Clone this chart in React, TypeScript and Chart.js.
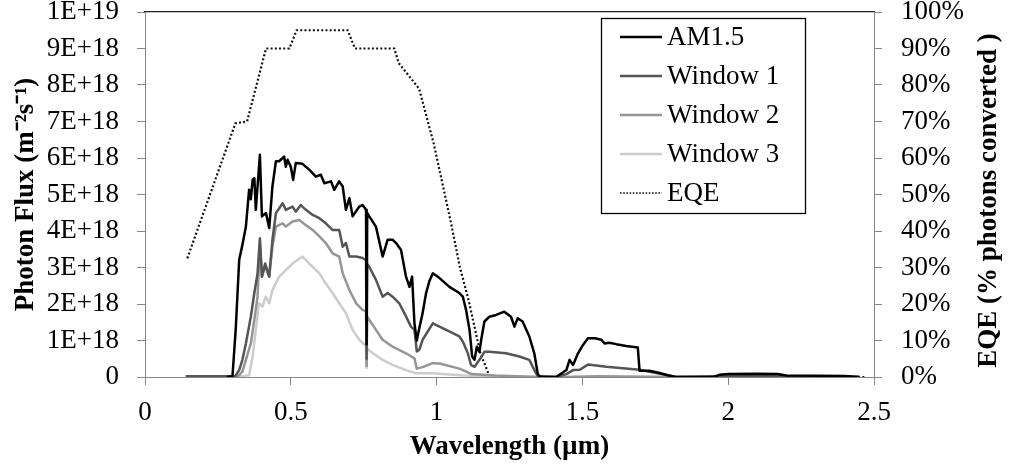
import React, { useEffect, useRef } from "react";
import { Chart, registerables } from "chart.js";
Chart.register(...registerables);

// Wavelength in µm, flux in units of 1E+18 photons m^-2 s^-1
const am15Wl = [0.28, 0.30, 0.311, 0.323, 0.334, 0.346, 0.357, 0.363, 0.369, 0.375, 0.38, 0.386, 0.394, 0.401, 0.408, 0.415, 0.426, 0.437, 0.449, 0.46, 0.472, 0.477, 0.483, 0.489, 0.5, 0.508, 0.517, 0.54, 0.563, 0.586, 0.603, 0.615, 0.638, 0.649, 0.666, 0.678, 0.689, 0.701, 0.712, 0.735, 0.746, 0.758, 0.76, 0.762, 0.769, 0.792, 0.815, 0.832, 0.849, 0.861, 0.878, 0.895, 0.907, 0.916, 0.924, 0.932, 0.941, 0.952, 0.964, 0.975, 0.987, 1.01, 1.044, 1.078, 1.09, 1.101, 1.113, 1.122, 1.13, 1.138, 1.147, 1.153, 1.164, 1.181, 1.204, 1.232, 1.255, 1.267, 1.278, 1.295, 1.318, 1.335, 1.347, 1.355, 1.41, 1.445, 1.456, 1.468, 1.485, 1.502, 1.519, 1.542, 1.565, 1.576, 1.593, 1.616, 1.65, 1.69, 1.696, 1.73, 1.765, 1.793, 1.82, 1.95, 1.97, 2.0, 2.1, 2.17, 2.2, 2.4, 2.45];
const am15Flux = [0, 0.02, 1.29, 3.21, 3.62, 4.12, 5.13, 4.87, 5.4, 5.45, 4.58, 5.22, 6.09, 4.4, 4.45, 4.49, 4.08, 5.22, 5.91, 5.91, 6.0, 6.04, 5.76, 5.95, 5.76, 5.4, 5.86, 5.84, 5.68, 5.49, 5.54, 5.31, 5.36, 5.13, 5.36, 5.22, 4.58, 4.9, 4.4, 4.67, 4.71, 4.58, 0.9, 4.5, 4.4, 4.12, 3.3, 3.76, 3.76, 3.67, 3.48, 2.75, 2.47, 2.75, 1.47, 1.0, 1.35, 1.75, 2.3, 2.62, 2.84, 2.71, 2.47, 2.3, 2.2, 1.84, 1.29, 0.56, 0.47, 0.83, 0.69, 1.02, 1.52, 1.65, 1.7, 1.79, 1.65, 1.38, 1.61, 1.52, 1.11, 0.65, 0.08, 0, 0, 0.19, 0.47, 0.33, 0.65, 0.88, 1.06, 1.06, 1.02, 0.92, 0.94, 0.9, 0.85, 0.81, 0.17, 0.17, 0.11, 0.05, 0, 0, 0.06, 0.08, 0.09, 0.08, 0.04, 0.03, 0];

const win1Wl = [0.14, 0.31, 0.323, 0.334, 0.346, 0.363, 0.375, 0.386, 0.394, 0.401, 0.412, 0.426, 0.437, 0.449, 0.472, 0.483, 0.506, 0.517, 0.534, 0.552, 0.575, 0.598, 0.62, 0.643, 0.666, 0.678, 0.689, 0.701, 0.724, 0.746, 0.758, 0.76, 0.762, 0.769, 0.792, 0.815, 0.832, 0.849, 0.872, 0.895, 0.912, 0.924, 0.932, 0.941, 0.952, 0.987, 1.033, 1.078, 1.09, 1.107, 1.118, 1.13, 1.147, 1.164, 1.181, 1.238, 1.284, 1.318, 1.341, 1.347, 1.41, 1.445, 1.468, 1.491, 1.519, 1.582, 1.696, 1.73, 1.793, 1.82, 1.97, 2.2, 2.45];
const win1Flux = [0.02, 0.03, 0.19, 0.47, 0.92, 1.66, 2.3, 2.84, 3.8, 2.75, 3.11, 2.75, 3.76, 4.49, 4.76, 4.58, 4.67, 4.53, 4.71, 4.58, 4.44, 4.35, 4.21, 4.03, 4.03, 3.57, 3.67, 3.3, 3.3, 3.26, 3.2, 0.5, 3.1, 3.02, 2.66, 2.2, 2.3, 2.2, 2.02, 1.66, 1.38, 1.29, 0.7, 0.75, 1.02, 1.47, 1.29, 1.11, 0.97, 0.65, 0.33, 0.28, 0.47, 0.69, 0.69, 0.65, 0.56, 0.47, 0.1, 0.03, 0, 0.08, 0.19, 0.2, 0.34, 0.28, 0.2, 0.14, 0.05, 0, 0.02, 0.02, 0];

const win2Wl = [0.14, 0.32, 0.334, 0.346, 0.363, 0.375, 0.386, 0.394, 0.401, 0.412, 0.426, 0.437, 0.449, 0.472, 0.483, 0.506, 0.529, 0.552, 0.575, 0.598, 0.62, 0.643, 0.666, 0.678, 0.701, 0.724, 0.746, 0.758, 0.76, 0.762, 0.769, 0.792, 0.815, 0.849, 0.895, 0.924, 0.932, 0.952, 0.987, 1.01, 1.078, 1.09, 1.12, 1.2, 1.35, 1.45, 1.55, 1.8, 2.45];
const win2Flux = [0.02, 0.03, 0.15, 0.47, 0.92, 1.57, 2.2, 3.7, 2.75, 3.02, 2.75, 3.57, 4.12, 4.21, 4.12, 4.26, 4.3, 4.16, 4.03, 3.85, 3.67, 3.39, 3.3, 2.84, 2.38, 2.02, 1.84, 1.8, 0.3, 1.65, 1.57, 1.29, 1.02, 0.83, 0.65, 0.51, 0.23, 0.27, 0.38, 0.37, 0.23, 0.19, 0.08, 0.04, 0, 0, 0.02, 0, 0];

const win3Wl = [0.14, 0.34, 0.357, 0.369, 0.38, 0.391, 0.403, 0.414, 0.426, 0.437, 0.46, 0.483, 0.506, 0.54, 0.563, 0.598, 0.62, 0.643, 0.666, 0.689, 0.712, 0.735, 0.758, 0.76, 0.762, 0.781, 0.815, 0.849, 0.895, 0.93, 0.987, 1.078, 1.2, 2.45];
const win3Flux = [0.02, 0.03, 0.05, 0.56, 1.29, 2.02, 1.93, 2.2, 2.02, 2.38, 2.75, 2.93, 3.11, 3.3, 3.11, 2.84, 2.56, 2.3, 2.02, 1.75, 1.29, 1.02, 0.85, 0.25, 0.78, 0.65, 0.47, 0.33, 0.19, 0.1, 0.1, 0.05, 0, 0];

// EQE in % photons converted
const eqeWl = [0.145, 0.31, 0.35, 0.415, 0.495, 0.52, 0.695, 0.72, 0.855, 0.87, 0.9, 0.93, 0.94, 0.99, 1.02, 1.05, 1.08, 1.11, 1.15, 1.18, 1.2, 2.47];
const eqePct = [32.5, 69.5, 70, 90, 90, 95, 95, 90, 90, 86, 83, 80, 79, 64, 53, 42, 30, 21, 6.5, 0.5, 0, 0];

const seriesNames = ["AM1.5", "Window 1", "Window 2", "Window 3", "EQE"];
const seriesColors = ["#000000", "#555555", "#959595", "#cccccc", "#111111"];

const xTickLabels = ["0", "0.5", "1", "1.5", "2", "2.5"];
const yTickLabels = ["0", "1E+18", "2E+18", "3E+18", "4E+18", "5E+18", "6E+18", "7E+18", "8E+18", "9E+18", "1E+19"];
const y2TickLabels = ["0%", "10%", "20%", "30%", "40%", "50%", "60%", "70%", "80%", "90%", "100%"];

const xTitle = "Wavelength (µm)";
const yTitle = "Photon Flux (m⁻²s⁻¹)";
const y2Title = "EQE (% photons converted )";

const FONT = "'Liberation Serif', 'Times New Roman', serif";
const AXIS = "#878787";

function pts(xs: number[], ys: number[]) {
  return xs.map((x, i) => ({ x, y: ys[i] }));
}

const overlayPlugin = {
  id: "overlay",
  afterDraw(chart: any) {
    const ctx = chart.ctx as CanvasRenderingContext2D;
    const ca = chart.chartArea;
    ctx.save();
    // right axis title, reading bottom-to-top
    ctx.font = `bold 27px ${FONT}`;
    ctx.fillStyle = "#000";
    ctx.textAlign = "center";
    ctx.textBaseline = "middle";
    ctx.translate(989, (ca.top + ca.bottom) / 2 + 6);
    ctx.rotate(-Math.PI / 2);
    ctx.fillText(y2Title, 0, 0);
    ctx.restore();

    // legend box
    ctx.save();
    const bx = 601, by = 18, bw = 204, bh = 195;
    ctx.fillStyle = "#fff";
    ctx.fillRect(bx, by, bw, bh);
    ctx.strokeStyle = "#000";
    ctx.lineWidth = 1.3;
    ctx.strokeRect(bx + 0.5, by + 0.5, bw, bh);
    const rows = [37, 76, 115, 154, 193];
    chart.data.datasets.forEach((ds: any, i: number) => {
      const y = rows[i];
      ctx.beginPath();
      ctx.strokeStyle = ds.borderColor;
      ctx.lineWidth = i === 4 ? 1.6 : ds.borderWidth;
      ctx.setLineDash(i === 4 ? [1.6, 1.6] : []);
      ctx.moveTo(620, y);
      ctx.lineTo(662, y);
      ctx.stroke();
      ctx.setLineDash([]);
      ctx.fillStyle = "#000";
      ctx.font = `27px ${FONT}`;
      ctx.textAlign = "left";
      ctx.textBaseline = "middle";
      ctx.fillText(ds.label, 667, y + 1);
    });
    ctx.restore();
  },
};

const noPadV = (w: number) => (s: any) => {
  s.width = w;
  s.paddingTop = 0;
  s.paddingBottom = 0;
};

export default function App() {
  const ref = useRef<HTMLCanvasElement | null>(null);
  useEffect(() => {
    document.body.style.margin = "0";
    if (!ref.current) return;
    const spec = { borderWidth: 2.5, borderJoinStyle: "round", yAxisID: "y" };
    const chart = new Chart(ref.current, {
      type: "line",
      data: {
        datasets: [
          { label: seriesNames[0], data: pts(am15Wl, am15Flux), borderColor: seriesColors[0], ...spec },
          { label: seriesNames[1], data: pts(win1Wl, win1Flux), borderColor: seriesColors[1], ...spec },
          { label: seriesNames[2], data: pts(win2Wl, win2Flux), borderColor: seriesColors[2], ...spec },
          { label: seriesNames[3], data: pts(win3Wl, win3Flux), borderColor: seriesColors[3], ...spec },
          { label: seriesNames[4], data: pts(eqeWl, eqePct), borderColor: seriesColors[4], borderWidth: 2.2, borderDash: [2, 2.2], yAxisID: "y2" },
        ] as any,
      },
      options: {
        animation: false,
        responsive: true,
        maintainAspectRatio: false,
        layout: { padding: 0 },
        elements: { point: { radius: 0 }, line: { tension: 0, fill: false } },
        plugins: { legend: { display: false }, tooltip: { enabled: false } },
        scales: {
          x: {
            type: "linear",
            position: "bottom",
            min: 0,
            max: 2.5,
            ticks: {
              stepSize: 0.5,
              autoSkip: false,
              maxRotation: 0,
              padding: 12,
              color: "#000",
              font: { family: FONT, size: 27 },
              callback: (_v: any, i: number) => xTickLabels[i],
            },
            grid: { drawOnChartArea: false, drawTicks: true, tickLength: 8, color: AXIS },
            border: { color: AXIS, width: 1 },
            title: { display: true, text: xTitle, color: "#000", font: { family: FONT, size: 27, weight: "bold" }, padding: { top: 0, bottom: 7 } },
            afterFit: (s: any) => { s.height = 93; s.paddingLeft = 0; s.paddingRight = 0; },
          },
          xTop: {
            type: "linear",
            position: "top",
            min: 0,
            max: 2.5,
            ticks: { display: false },
            grid: { drawOnChartArea: false, drawTicks: false, color: "#222" },
            border: { color: "#222", width: 1.3 },
            afterFit: (s: any) => { s.height = 12; s.paddingLeft = 0; s.paddingRight = 0; },
          },
          y: {
            type: "linear",
            position: "left",
            min: 0,
            max: 10,
            ticks: {
              stepSize: 1,
              autoSkip: false,
              padding: 18,
              color: "#000",
              font: { family: FONT, size: 27 },
              callback: (_v: any, i: number) => yTickLabels[i],
            },
            grid: { drawOnChartArea: false, drawTicks: true, tickLength: 8, color: AXIS },
            border: { color: AXIS, width: 1 },
            title: { display: true, text: yTitle, color: "#000", font: { family: FONT, size: 27, weight: "bold" }, padding: { top: 10, bottom: 0 } },
            afterFit: noPadV(145),
          },
          y2: {
            type: "linear",
            position: "right",
            min: 0,
            max: 100,
            ticks: {
              stepSize: 10,
              autoSkip: false,
              padding: 19,
              color: "#000",
              font: { family: FONT, size: 27 },
              callback: (_v: any, i: number) => y2TickLabels[i],
            },
            grid: { drawOnChartArea: false, drawTicks: true, tickLength: 8, color: AXIS },
            border: { color: AXIS, width: 1 },
            afterFit: noPadV(136),
          },
        },
      } as any,
      plugins: [overlayPlugin],
    });
    return () => chart.destroy();
  }, []);
  return (
    <div style={{ width: 1010, height: 470, position: "relative" }}>
      <canvas ref={ref} />
    </div>
  );
}
